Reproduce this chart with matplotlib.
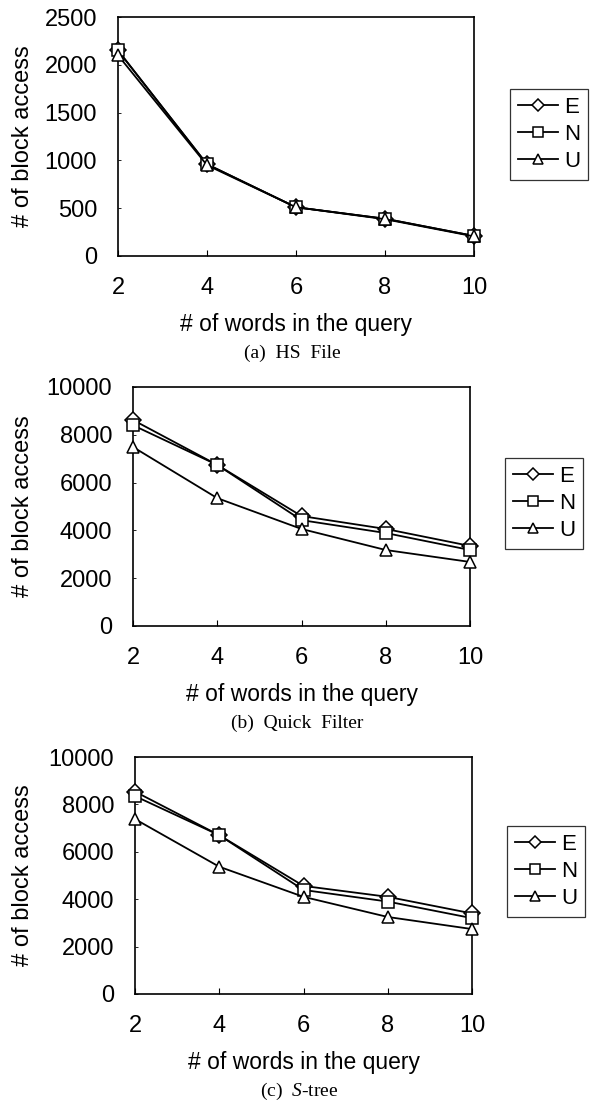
import matplotlib
matplotlib.use("Agg")
import matplotlib.pyplot as plt

plt.rcParams["mathtext.fontset"] = "custom"
plt.rcParams["mathtext.it"] = "Liberation Serif:italic"
plt.rcParams["mathtext.rm"] = "Liberation Serif"

W, H = 590, 1104
x_words = [2, 4, 6, 8, 10]
series_names = ["E", "N", "U"]

hs_E = [2150, 960, 510, 390, 210]
hs_N = [2150, 960, 510, 390, 210]
hs_U = [2100, 950, 510, 385, 205]

qf_E = [8620, 6740, 4600, 4060, 3350]
qf_N = [8400, 6740, 4430, 3890, 3180]
qf_U = [7490, 5350, 4060, 3180, 2680]

st_E = [8540, 6700, 4560, 4100, 3400]
st_N = [8350, 6700, 4390, 3900, 3200]
st_U = [7380, 5370, 4100, 3250, 2740]

captions = ["(a)  HS  File", "(b)  Quick  Filter", "(c)  $\\mathit{S}$-tree"]
xlabel = "# of words in the query"
ylabel = "# of block access"

fig = plt.figure(figsize=(W / 100, H / 100), dpi=100)

def px_axes(left, top, right, bottom):
    return fig.add_axes([left / W, 1 - bottom / H, (right - left) / W, (bottom - top) / H])

panels = [
    dict(box=(118, 17, 474, 256), data=(hs_E, hs_N, hs_U), ymax=2500, yticks=[0, 500, 1000, 1500, 2000, 2500],
         leg=(510, 89), xl_y=325, cap_y=353),
    dict(box=(133, 387, 470, 626), data=(qf_E, qf_N, qf_U), ymax=10000, yticks=[0, 2000, 4000, 6000, 8000, 10000],
         leg=(505, 458), xl_y=694, cap_y=723),
    dict(box=(135, 757, 472, 994), data=(st_E, st_N, st_U), ymax=10000, yticks=[0, 2000, 4000, 6000, 8000, 10000],
         leg=(507, 826), xl_y=1062, cap_y=1091),
]

markers = ["D", "s", "^"]
msizes = [8, 8.5, 8.5]
tick_font = "Liberation Sans"

for i, p in enumerate(panels):
    ax = px_axes(*p["box"])
    handles = []
    for name, ys, m, ms in zip(series_names, p["data"], markers, msizes):
        h, = ax.plot(x_words, ys, color="black", lw=1.3, marker=m, markersize=ms,
                     markerfacecolor="white", markeredgecolor="black", markeredgewidth=1.1,
                     label=name, clip_on=False, zorder=3)
        handles.append(h)
    ax.set_xlim(2, 10)
    ax.set_ylim(0, p["ymax"])
    ax.set_xticks(x_words)
    ax.set_yticks(p["yticks"])
    ax.tick_params(axis="x", direction="in", length=4, width=0.8, labelsize=17, pad=15)
    ax.tick_params(axis="y", direction="in", length=2, width=0.6, labelsize=17, pad=15)
    for lab in ax.get_xticklabels() + ax.get_yticklabels():
        lab.set_family(tick_font)
    for s in ax.spines.values():
        s.set_linewidth(1.2)
    ax.set_ylabel(ylabel, fontsize=17, family=tick_font)
    ax.yaxis.set_label_coords(-(p["box"][0] - 34) / (p["box"][2] - p["box"][0]), 0.5)
    cx = (p["box"][0] + p["box"][2]) / 2
    fig.text(cx / W, 1 - p["xl_y"] / H, xlabel, ha="center", va="center",
             fontsize=16.5, family=tick_font)
    fig.text((cx - 4) / W, 1 - p["cap_y"] / H, captions[i], ha="center", va="center",
             fontsize=14, family="Liberation Serif")
    lx0, ly0 = p["leg"]
    leg = fig.legend(handles=handles, loc="upper left",
                     bbox_to_anchor=(lx0 / W, 1 - ly0 / H),
                     frameon=True, fancybox=False, edgecolor="black",
                     prop={"family": tick_font, "size": 16},
                     handlelength=1.8, handletextpad=0.3,
                     borderpad=0.35, labelspacing=0.28, borderaxespad=0)
    leg.get_frame().set_linewidth(0.9)
    for lh in leg.legend_handles:
        lh.set_markersize(6.5)

fig.savefig("out.png", dpi=100, facecolor="white")
